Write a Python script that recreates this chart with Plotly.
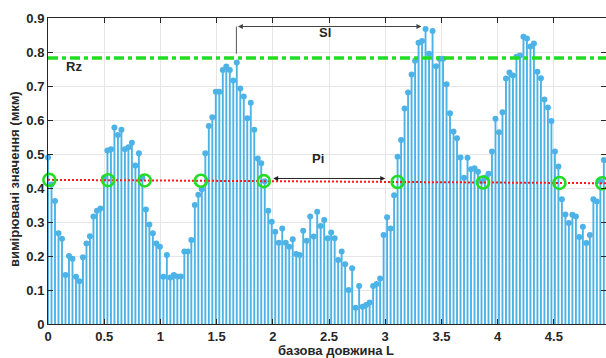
import numpy as np
import plotly.graph_objects as go

# ---- data ----
sample_step = 0.0311  # spacing of the measured samples along L
measured = [
    0.49, 0.41, 0.362, 0.267, 0.251, 0.144, 0.2, 0.192, 0.139, 0.126,
    0.196, 0.237, 0.258, 0.316, 0.333, 0.34, 0.43, 0.51, 0.514, 0.578,
    0.556, 0.571, 0.514, 0.52, 0.533, 0.466, 0.502, 0.43, 0.337, 0.293,
    0.267, 0.237, 0.227, 0.139, 0.203, 0.137, 0.144, 0.14, 0.14, 0.213,
    0.213, 0.247, 0.35, 0.38, 0.396, 0.502, 0.582, 0.608, 0.683, 0.683,
    0.747, 0.757, 0.747, 0.716, 0.769, 0.693, 0.669, 0.605, 0.651, 0.571,
    0.487, 0.473, 0.42, 0.333, 0.301, 0.271, 0.239, 0.281, 0.239, 0.227,
    0.249, 0.206, 0.203, 0.274, 0.245, 0.316, 0.257, 0.33, 0.288, 0.306,
    0.252, 0.269, 0.252, 0.188, 0.213, 0.176, 0.1, 0.164, 0.048, 0.112,
    0.051, 0.056, 0.063, 0.112, 0.118, 0.134, 0.262, 0.314, 0.281, 0.379,
    0.492, 0.541, 0.634, 0.681, 0.734, 0.774, 0.827, 0.832, 0.868, 0.795,
    0.862, 0.758, 0.78, 0.78, 0.705, 0.62, 0.566, 0.546, 0.49, 0.43,
    0.489, 0.455, 0.458, 0.448, 0.42, 0.43, 0.442, 0.507, 0.604, 0.564,
    0.623, 0.722, 0.74, 0.731, 0.786, 0.79, 0.845, 0.84, 0.816, 0.825,
    0.742, 0.723, 0.66, 0.637, 0.597, 0.507, 0.463, 0.367, 0.322, 0.297,
    0.321, 0.316, 0.256, 0.286, 0.238, 0.262, 0.367, 0.36, 0.42, 0.482,
]
rz_level = 0.782
mean_line_x = [0.0, 4.964]
mean_line_y = [0.424, 0.414]
crossings_x = [0.012, 0.535, 0.86, 1.36, 1.92, 3.11, 3.87, 4.55, 4.93]
sl_span = [1.676, 3.322]
sl_level = 0.875
pi_span = [1.99, 3.0]
pi_level = 0.428

x_range = [0, 4.964]
y_range = [0, 0.9]
x_title = "базова довжина L"
y_title = "вимірювані значення (мкм)"

# ---- build figure ----
xs = np.arange(len(measured)) * sample_step
ys = np.array(measured)

stem_x, stem_y = [], []
for xv, yv in zip(xs, ys):
    stem_x += [xv, xv, None]
    stem_y += [0, yv, None]

STEM = "#4db3e6"
GREEN = "#22dd22"
RED = "#ff1a1a"
TXT = "#262626"

fig = go.Figure()
fig.add_trace(go.Scatter(x=stem_x, y=stem_y, mode="lines",
                         line=dict(color=STEM, width=1.9), hoverinfo="skip",
                         showlegend=False))
fig.add_trace(go.Scatter(x=xs, y=ys, mode="markers",
                         marker=dict(color=STEM, size=6), cliponaxis=False,
                         showlegend=False))
fig.add_trace(go.Scatter(x=mean_line_x, y=mean_line_y, mode="lines",
                         line=dict(color=RED, width=2, dash="2px,2px"),
                         showlegend=False))
fig.add_trace(go.Scatter(x=x_range, y=[rz_level, rz_level], mode="lines",
                         line=dict(color=GREEN, width=3.5, dash="10px,4px,4px,4px"),
                         showlegend=False))
cross_y = np.interp(crossings_x, mean_line_x, mean_line_y)
fig.add_trace(go.Scatter(x=crossings_x, y=cross_y, mode="markers",
                         marker=dict(symbol="circle-open", color=GREEN, size=12,
                                     line=dict(width=2.6, color=GREEN)),
                         cliponaxis=False, showlegend=False))

# vertical marker line for Sl
fig.add_shape(type="line", x0=sl_span[0], x1=sl_span[0], y0=sl_level, y1=0.795,
              line=dict(color="#555555", width=1))

anns = [
    dict(x=sl_span[1], y=sl_level, ax=sl_span[0], ay=sl_level,
         xref="x", yref="y", axref="x", ayref="y", text="",
         showarrow=True, arrowhead=2, startarrowhead=2, arrowside="end+start",
         arrowsize=1, arrowwidth=1, arrowcolor="#444444"),
    dict(x=pi_span[1], y=pi_level, ax=pi_span[0], ay=pi_level,
         xref="x", yref="y", axref="x", ayref="y", text="",
         showarrow=True, arrowhead=2, startarrowhead=2, arrowside="end+start",
         arrowsize=1, arrowwidth=1, arrowcolor="#222222"),
    dict(x=0.231, y=0.756, xref="x", yref="y", text="<b>Rz</b>", showarrow=False,
         font=dict(size=13, color=TXT)),
    dict(x=2.464, y=0.856, xref="x", yref="y", text="<b>Sl</b>", showarrow=False,
         font=dict(size=13, color=TXT)),
    dict(x=2.40, y=0.488, xref="x", yref="y", text="<b>Pi</b>", showarrow=False,
         font=dict(size=13, color=TXT)),
    dict(x=-0.0591, y=0.474, xref="paper", yref="paper", text="<b>" + y_title + "</b>",
         textangle=-90, showarrow=False, font=dict(size=13, color=TXT),
         xanchor="center", yanchor="middle"),
    dict(x=0.516, y=-0.055, xref="paper", yref="paper", text="<b>" + x_title + "</b>",
         showarrow=False, font=dict(size=13, color=TXT),
         xanchor="center", yanchor="top"),
]
fig.update_layout(annotations=anns)

axis_common = dict(showline=True, linecolor="#262626", linewidth=1, mirror="ticks",
                   ticks="inside", ticklen=5, tickcolor="#262626", automargin=False,
                   showgrid=True, gridcolor="#e6e6e6", gridwidth=1, zeroline=False,
                   tickfont=dict(family="Liberation Sans, Arial", size=13, color=TXT,
                                 weight="bold"))
fig.update_xaxes(range=x_range, dtick=0.5, tick0=0, **axis_common)
fig.update_yaxes(range=y_range, dtick=0.1, tick0=0, **axis_common)

fig.update_layout(width=606, height=358,
                  margin=dict(l=48, r=0, t=18, b=34, autoexpand=False),
                  plot_bgcolor="white", paper_bgcolor="white",
                  font=dict(family="Liberation Sans, Arial", color=TXT),
                  showlegend=False)

fig.write_html("out.html", config={"displayModeBar": False},
               post_script="document.body.style.margin='0';document.body.style.overflow='hidden';")
